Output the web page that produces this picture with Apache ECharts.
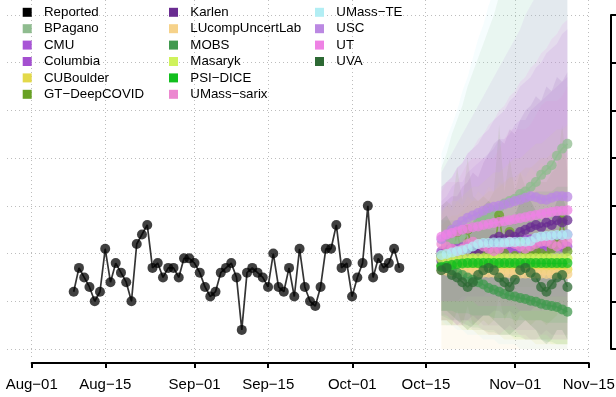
<!DOCTYPE html>
<html><head><meta charset="utf-8">
<script src="https://cdn.jsdelivr.net/npm/echarts@6/dist/echarts.min.js"></script>
<style>html,body{margin:0;padding:0;background:#fff}#c{width:616px;height:397px}</style>
</head><body><div id="c"></div>
<script>
// ---------- data ----------
const axisOrigin = '2022-08-01';
const tickDates = ['2022-08-01','2022-08-15','2022-09-01','2022-09-15','2022-10-01','2022-10-15','2022-11-01','2022-11-15'];
const tickLabels = ['Aug\u221201','Aug\u221215','Sep\u221201','Sep\u221215','Oct\u221201','Oct\u221215','Nov\u221201','Nov\u221215'];
const yTicks = [0,10,20,30,40,50,60,70];

const reportedStart = '2022-08-09';
const reported = [12,17,15,13,10,12,21,14,18,16,14,10,22,24,26,17,18,15,17,17,15,19,19,18,16,13,11,12,16,17,18,15,4,16,17,16,15,13,20,13,12,17,11,21,13,10,9,13,21,21,26,17,18,11,15,18,30,15,19,17,18,21,17];

const forecastStart = '2022-10-18';

const BPagano_med = [20,21,22,23,24,25,25.5,26.5,27,28,29,29.5,30.5,31,31.5,32.5,33,34,35,36.5,37.5,38.5,40.5,42,43];
const BPagano_lo  = [10,10,10,10,11,11,11,11,11,12,12,12,12,12,13,13,13,13,13,14,14,14,14,15,15];
const BPagano_hi  = [38,41,45,48,51,55,58,61,64,67,70,74,77,80,83,86,89,92,95,98,101,104,107,111,114];

const CMU_med = [19.5,19.8,20,20.2,20,20.3,20.5,20.4,20.6,20.5,20.8,20.7,20.9,21,20.8,21,21.2,21,21.3,21.2,21.4,21.3,21.5,21.4,21.5];
const CMU_lo  = [6,6,5,5,5,5,4,4,4,4,4,3,3,3,3,3,3,2,2,2,2,2,2,2,2];
const CMU_hi  = [31,32,34,35,35,37,38,39,40,41,42,44,44,45,47,48,48,50,51,52,53,54,55,56,57];

const Columbia_med = [20.5,20.8,21,21,21.3,21.5,21.5,21.8,22,22,22.2,22.3,22.5,22.5,22.7,22.8,23,23,23.2,23.3,23.5,23.5,23.7,23.8,24];
const Columbia_lo  = [7,7,6,6,6,6,5,6,5,5,5,5,4,5,4,4,4,4,4,3,4,3,3,3,3];
const Columbia_hi  = [34,35,36,38,39,41,42,43,45,46,48,49,50,52,53,55,56,57,59,60,62,63,64,66,67];

const CUBoulder_med = [17.5,17.4,17.4,17.3,17.3,17.2,17.2,17.2,17.1,17.1,17.1,17,17,17,17,16.9,16.9,16.9,16.9,16.8,16.8,16.8,16.8,16.8,16.7];
const CUBoulder_lo  = [6,6,5,5,4,4,4,3,3,3,3,3,2,2,2,2,2,2,1,1,1,1,1,1,1];
const CUBoulder_hi  = [26,27,28,28,29,30,31,31,32,33,33,34,35,36,36,37,38,38,39,40,40,41,42,42,43];

const GT_med = [19.5,20,19,24.5,19.5,25,20,19.5,20,19,20,28,20,24.5,19.5,22.5,20,19.5,20.5,20,19.5,21,22,27,20.5];
const GT_lo  = [5,5,5,8,5,9,5,5,6,5,6,11,6,8,5,7,6,5,6,6,5,6,7,10,6];
const GT_hi  = [30,31,30,38,31,40,32,31,32,31,33,47,33,40,33,37,34,34,35,35,35,37,38,47,37];

const Karlen_med = [18.5,19,19.5,19,20,20.5,21,20.5,21.5,22,23,23.5,23,24,23.5,24.5,25,25.5,26,25.5,26.5,26,27,26.5,27];
const Karlen_lo  = [6,6,6,5,6,6,7,6,7,7,8,8,7,8,7,8,8,8,9,8,9,8,9,8,9];
const Karlen_hi  = [30,31,32,32,34,35,37,36,39,41,43,44,43,46,45,48,50,51,53,52,55,54,57,56,58];

const LU_med = [16.5,16.4,16.3,16.2,16.2,16.1,16.1,16,16,16,16,15.9,15.9,15.9,15.9,15.8,15.8,15.8,15.8,15.8,15.7,15.7,15.7,15.7,15.7];
const LU_lo  = [0,0,0,0,0,0,0,0,0,0,0,0,0,0,0,0,0,0,0,0,0,0,0,0,0];
const LU_hi  = [28,30,29,31,30,32,31,33,32,34,33,35,34,36,35,37,36,38,37,39,38,40,39,41,40];

const MOBS_med = [17.5,17,16.5,16,15.5,15,14.5,14,13.5,12.8,12.4,12,11.5,11.2,11,10.7,10.5,10.1,9.9,9.5,9.2,9,8.8,8.3,7.8];
const MOBS_lo  = [7,6.5,6,6,5.5,5,4.5,4.5,4,3.5,3.5,3,3,3,2.5,2.5,2,2,2,2,1.5,1.5,1,1,1];
const MOBS_hi  = [27,27,27,27,26,26,26,26,25,25,25,24,24,24,24,23,23,23,22,22,22,22,21,21,20];

const Masaryk_med = [19,19,19,19,19,19,19,19,19,19,19,19,19,19,19,19,19,19,19,19,19,19,19,19,19];
const Masaryk_lo  = [6,6,5,5,5,4,4,4,4,3,3,3,3,3,2,2,2,2,2,2,2,1,1,1,1];
const Masaryk_hi  = [29,30,31,31,32,33,34,34,35,36,37,37,38,39,40,40,41,42,43,43,44,45,46,46,47];

const PSI_med = [17.2,17.4,17.6,17.8,17.9,18,18,18,18,18,18,18,18,18,18,18,18,18,18,18,18,18,18,18,18];
const PSI_lo  = [8,8,8,7.5,7.5,7.5,7,7,7,7,6.5,6.5,6.5,6.5,6,6,6,6,6,6,5.5,5.5,5.5,5.5,5.5];
const PSI_hi  = [24,25,26,27,27,28,28,29,29,30,30,30,31,31,31,32,32,32,33,33,33,33,34,34,34];

const sarix_med = [22,21.5,21,20.5,21,22,22.5,22,21.5,21,20.5,21,22,22.5,22,21.5,21,21.5,22,22.5,22.5,22,21.5,22,22.5];
const sarix_lo  = [8,7,6,5,5,6,6,5,4,3,3,3,4,4,4,3,2,2,2,3,3,2,2,2,2];
const sarix_hi  = [34,35,35,35,37,39,40,40,40,40,40,42,44,46,46,46,46,47,49,51,52,52,52,53,55];

const TE_med = [19.7,19.9,20.2,20.5,20.7,21,21.5,22,22.2,22.2,22.3,22.3,22.3,22.4,22.4,22.5,22.5,22.6,23.3,23.6,23.7,23.8,23.9,23.9,24];
const TE_lo  = [6,5,5,4,4,3,3,3,2,2,2,1,1,1,1,0,0,0,0,0,0,0,0,0,0];
const TE_hi  = [41,44,47,50,54,57,61,65,68,72,75,79,83,87,91,95,99,103,107,111,115,119,123,127,131];

const USC_med = [23,24,25,26,26.8,27.5,28,28.5,29,29.5,29.8,30,30.3,30.6,31,31.3,31.7,32,31.8,31.4,31.3,31.7,32,32,31.9];
const USC_lo  = [10,10,10,10,10,11,11,11,11,11,11,11,11,11,11,11,11,11,11,11,11,11,11,11,11];
const USC_hi  = [37,39,41,43,45,47,49,51,53,55,57,59,61,63,65,67,70,72,74,76,78,80,82,84,86];

const UT_med = [23.5,24,24.3,24.6,25,25.2,25.5,25.7,26,26.2,26.4,26.6,26.8,27,27.2,27.4,27.6,27.9,28.1,28.3,28.5,28.7,28.9,29,29.1];
const UT_lo  = [10,10,10,10,10,10,10,9,9,9,9,9,9,9,9,8,8,8,8,8,8,8,8,8,8];
const UT_hi  = [33,35,36,38,39,41,42,44,45,47,48,50,51,53,54,56,57,59,60,62,63,65,66,68,69];

const UVA_med = [16.5,17,15.5,15,14,13,14,15.5,16.5,17,16.5,15,14,13,14.5,16.5,17,16,15,13,12,13.5,15,15.5,13];
const UVA_lo  = [8,8,7,6,5,4,5,6,7,7,6,5,4,3,4,5,6,5,4,2,1,2,4,4,2];
const UVA_hi  = [27,28,26,26,25,24,26,28,30,31,30,28,27,26,28,31,32,31,29,27,26,28,31,32,29];

const modelNames  = ['BPagano','CMU','Columbia','CUBoulder','GT\u2212DeepCOVID','Karlen','LUcompUncertLab','MOBS','Masaryk','PSI\u2212DICE','UMass\u2212sarix','UMass\u2212TE','USC','UT','UVA'];
const modelColors = ['#8fbc8f','#a855d6','#a44fd0','#e3d94a','#68a124','#6a2c91','#f6d28a','#41994f','#cff25c','#12bf1e','#ec88d0','#b2eef4','#bb88e2','#ee82e4','#2d6934'];
const modelMed = [BPagano_med,CMU_med,Columbia_med,CUBoulder_med,GT_med,Karlen_med,LU_med,MOBS_med,Masaryk_med,PSI_med,sarix_med,TE_med,USC_med,UT_med,UVA_med];
const modelLo  = [BPagano_lo,CMU_lo,Columbia_lo,CUBoulder_lo,GT_lo,Karlen_lo,LU_lo,MOBS_lo,Masaryk_lo,PSI_lo,sarix_lo,TE_lo,USC_lo,UT_lo,UVA_lo];
const modelHi  = [BPagano_hi,CMU_hi,Columbia_hi,CUBoulder_hi,GT_hi,Karlen_hi,LU_hi,MOBS_hi,Masaryk_hi,PSI_hi,sarix_hi,TE_hi,USC_hi,UT_hi,UVA_hi];

const legendCol1 = ['Reported','BPagano','CMU','Columbia','CUBoulder','GT\u2212DeepCOVID'];
const legendCol2 = ['Karlen','LUcompUncertLab','MOBS','Masaryk','PSI\u2212DICE','UMass\u2212sarix'];
const legendCol3 = ['UMass\u2212TE','USC','UT','UVA'];

// ---------- helpers ----------
const DAY = 864e5;
const dayOf = s => (Date.parse(s) - Date.parse(axisOrigin)) / DAY;
const tickDays = tickDates.map(dayOf);
const repDay0 = dayOf(reportedStart);
const fcDay0 = dayOf(forecastStart);
const fcDays = BPagano_med.map((_, i) => fcDay0 + i);

const FONT = "'Liberation Sans', Arial, Helvetica, sans-serif";

const series = [];
series.push({
  type: 'custom', name: 'bands', xAxisIndex: 0, yAxisIndex: 0, silent: true, z: 1,
  renderItem: function (params, api) {
    const k = params.dataIndex;
    const pts = [];
    for (let i = 0; i < fcDays.length; i++) pts.push(api.coord([fcDays[i], modelHi[k][i]]));
    for (let i = fcDays.length - 1; i >= 0; i--) pts.push(api.coord([fcDays[i], modelLo[k][i]]));
    return { type: 'polygon', shape: { points: pts }, style: { fill: modelColors[k], opacity: 0.12 } };
  },
  encode: { x: 0, y: 1 },
  data: modelNames.map((_, k) => [fcDays[0], modelLo[k][0]])
});
series.push({
  type: 'line', name: 'Reported', xAxisIndex: 0, yAxisIndex: 0, z: 3,
  data: reported.map((v, i) => [repDay0 + i, v]),
  symbol: 'circle', symbolSize: 10, showSymbol: true,
  itemStyle: { color: '#000', opacity: 0.75 },
  lineStyle: { color: '#111', width: 1.7, opacity: 0.85 },
  emphasis: { disabled: true }, animation: false
});
modelNames.forEach((n, k) => {
  series.push({
    type: 'line', name: n, xAxisIndex: 0, yAxisIndex: 0, z: 4,
    data: modelMed[k].map((v, i) => [fcDays[i], v]),
    symbol: 'circle', symbolSize: 10, showSymbol: true,
    itemStyle: { color: modelColors[k], opacity: 0.75 },
    lineStyle: { color: modelColors[k], width: 1.6, opacity: 0.75 },
    emphasis: { disabled: true }, animation: false
  });
});

function legendAt(left, names) {
  return {
    left: left, top: 5.3, orient: 'vertical', padding: 0,
    itemWidth: 9, itemHeight: 9, itemGap: 2.4, icon: 'rect',
    selectedMode: false,
    itemStyle: { opacity: 1, borderWidth: 0 },
    textStyle: { color: '#000', fontSize: 13.3, fontFamily: FONT, lineHeight: 14, padding: [0, 0, 0, 7.3] },
    data: names
  };
}

const option = {
  animation: false,
  backgroundColor: '#fff',
  textStyle: { fontFamily: FONT },
  grid: [
    { left: 7, right: 26, top: 0, bottom: 40, outerBoundsMode: 'none', containLabel: false },
    { left: 31.7, right: 27.2, top: 362, height: 1, outerBoundsMode: 'none', containLabel: false },
    { left: 611, width: 0, top: 15, bottom: 48, outerBoundsMode: 'none', containLabel: false }
  ],
  legend: [legendAt(22.7, legendCol1), legendAt(169, legendCol2), legendAt(315, legendCol3)],
  xAxis: [
    { gridIndex: 0, type: 'value', min: -4.7, max: 106.3,
      axisLine: { show: false }, axisTick: { show: false, customValues: tickDays }, axisLabel: { show: false },
      splitLine: { show: true, lineStyle: { color: '#bdbdbd', width: 1, type: [1, 3] } } },
    { gridIndex: 1, type: 'value', min: tickDays[0], max: tickDays[tickDays.length - 1],
      axisLine: { show: true, onZero: false, lineStyle: { color: '#000', width: 2 } },
      axisTick: { show: true, length: 5, customValues: tickDays, lineStyle: { color: '#000', width: 2 } },
      axisLabel: { show: true, customValues: tickDays, margin: 14, color: '#000', fontSize: 15, fontFamily: FONT,
        formatter: v => { const i = tickDays.findIndex(d => Math.abs(d - v) < 0.01); return i >= 0 ? tickLabels[i] : ''; } },
      splitLine: { show: false } },
    { gridIndex: 2, type: 'value', min: 0, max: 1, show: false }
  ],
  yAxis: [
    { gridIndex: 0, type: 'value', min: -1.68, max: 73.15,
      axisLine: { show: false }, axisTick: { show: false, customValues: yTicks }, axisLabel: { show: false },
      splitLine: { show: true, lineStyle: { color: '#bdbdbd', width: 1, type: [1, 3] } } },
    { gridIndex: 1, type: 'value', min: 0, max: 1, show: false },
    { gridIndex: 2, type: 'value', position: 'right', min: 0, max: 70, interval: 10,
      axisLine: { show: true, lineStyle: { color: '#000', width: 2 } },
      axisTick: { show: true, length: 5, lineStyle: { color: '#000', width: 2 } },
      axisLabel: { show: false }, splitLine: { show: false } }
  ],
  series: series
};

const chart = echarts.init(document.getElementById('c'), null, { renderer: 'canvas' });
chart.setOption(option);
</script>
</body></html>
